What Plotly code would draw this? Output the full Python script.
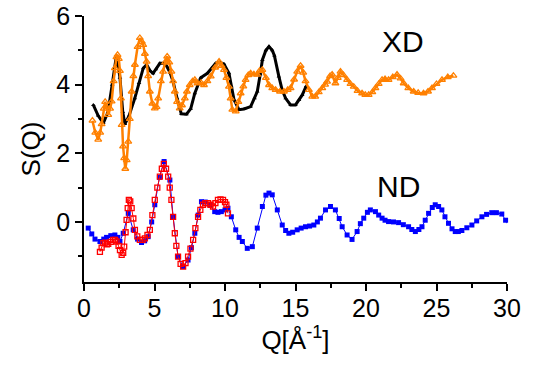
import plotly.graph_objects as go

# X-ray diffraction, reference curve (black)
q_xd_ref = [0.66, 1.0, 1.37, 1.7, 2.0, 2.3, 2.55, 2.75, 2.9, 3.2, 3.6, 3.9, 4.2, 4.44, 4.7,
            4.9, 5.1, 5.38, 5.65, 5.85, 6.1, 6.32, 6.6, 6.9, 7.27, 7.57, 7.86, 8.28, 8.75,
            9.1, 9.34, 9.65, 9.93, 10.28, 10.45, 10.64, 10.99, 11.35, 11.82, 12.1, 12.29,
            12.5, 12.65, 12.9, 13.12, 13.35, 13.5, 13.82, 14.05, 14.3, 14.65, 15.0, 15.25,
            15.48, 15.75]
s_xd_ref = [3.41, 3.1, 2.88, 3.2, 4.0, 4.85, 4.2, 3.2, 2.85, 3.1, 3.6, 4.05, 4.48, 4.58, 4.4,
            4.33, 4.45, 4.62, 4.62, 4.55, 4.35, 4.09, 3.6, 3.15, 3.14, 3.3, 3.75, 4.2, 4.33,
            4.5, 4.62, 4.65, 4.6, 4.33, 3.95, 3.56, 3.27, 3.29, 3.36, 3.6, 3.8,
            4.3, 4.72, 5.0, 5.11, 5.0, 4.85, 4.24, 3.85, 3.6, 3.41, 3.41, 3.55,
            3.7, 3.95]

# X-ray diffraction, measured curve (orange)
q_xd = [0.6, 0.8, 1.01, 1.15, 1.25, 1.4, 1.5, 1.6, 1.72, 1.85, 1.96, 2.1, 2.19, 2.3, 2.38,
        2.47, 2.55, 2.62, 2.67, 2.77, 2.85, 2.93, 3.03, 3.14, 3.25, 3.38, 3.5, 3.61, 3.8,
        3.96, 4.1, 4.2, 4.32, 4.44, 4.55, 4.67, 4.85, 5.02, 5.15, 5.26, 5.45, 5.61, 5.75,
        5.9, 6.05, 6.2, 6.32, 6.44, 6.6, 6.79, 6.95, 7.15, 7.3, 7.5, 7.7, 7.86, 8.05, 8.3,
        8.51, 8.75, 8.99, 9.3, 9.58, 9.75, 9.93, 10.1, 10.28, 10.4, 10.52, 10.76, 10.95,
        11.11, 11.3, 11.46, 11.65, 11.82, 12.05, 12.29, 12.45, 12.65, 12.9, 13.12, 13.35,
        13.59, 13.9, 14.18, 14.45, 14.65, 14.9, 15.12, 15.36, 15.55, 15.71, 15.95, 16.19,
        16.4, 16.65, 16.9, 17.1, 17.24, 17.45, 17.6, 17.83, 18.0, 18.19, 18.4, 18.66, 18.9,
        19.13, 19.4, 19.72, 19.95, 20.19, 20.45, 20.67, 20.9, 21.14, 21.35, 21.6, 21.9,
        22.2, 22.45, 22.67, 23.0, 23.38, 23.7, 24.08, 24.4, 24.68, 25.0, 25.39, 25.8, 26.2]
s_xd = [2.95, 2.6, 2.4, 2.6, 2.85, 3.3, 3.5, 3.35, 3.12, 3.3, 3.51, 4.1, 4.48, 4.8, 4.87,
        4.75, 4.4, 3.6, 2.83, 2.2, 1.86, 1.55, 1.8, 2.34, 3.0, 3.8, 4.25, 4.58, 5.1,
        5.36, 5.25, 5.16, 4.9, 4.67, 4.25, 3.8, 3.45, 3.31, 3.35, 3.6, 4.1, 4.38, 4.65,
        4.82, 4.65, 4.38, 4.1, 3.8, 3.5, 3.31, 3.4, 3.6, 3.8, 3.99, 4.1, 4.14, 4.04, 4.05,
        3.99, 4.1, 4.24, 4.5, 4.67, 4.55, 4.43, 4.2, 3.94, 3.6, 3.27, 3.22, 3.5,
        3.75, 3.95, 4.14, 4.28, 4.33, 4.3, 4.29, 4.4, 4.43, 4.2, 3.99, 3.9,
        3.85, 3.8, 3.8, 3.85, 3.9, 4.15, 4.38, 4.55, 4.35, 4.1, 3.85, 3.65,
        3.65, 3.78, 3.9, 4.0, 4.09, 4.25, 4.29, 4.04, 4.2, 4.38, 4.28, 4.14, 4.02,
        3.94, 3.82, 3.75, 3.7, 3.7, 3.78, 3.9, 4.02, 4.14, 4.16, 4.14, 4.22,
        4.29, 4.18, 4.04, 3.9, 3.8, 3.76, 3.75, 3.8, 3.9, 4.02, 4.14, 4.22, 4.26]

# Neutron diffraction, wide-Q curve (blue)
q_nd = [0.3, 0.55, 0.78, 1.13, 1.4, 1.6, 1.9, 2.19, 2.4, 2.55, 2.78, 3.14, 3.49, 3.8, 4.08,
        4.3, 4.55, 4.8, 5.02, 5.35, 5.68, 6.09, 6.32, 6.67, 7.03, 7.38, 7.62, 7.86, 8.1,
        8.33, 8.6, 8.92, 9.27, 9.5, 9.74, 10.0, 10.21, 10.45, 10.76, 11.0, 11.23, 11.58,
        11.94, 12.29, 12.65, 12.9, 13.12, 13.35, 13.71, 14.06, 14.3, 14.53, 14.8, 15.12,
        15.4, 15.71, 16.0, 16.3, 16.55, 16.77, 17.13, 17.48, 17.83, 18.1, 18.31, 18.66,
        19.01, 19.37, 19.6, 19.84, 20.1, 20.31, 20.67, 20.9, 21.14, 21.35, 21.6, 21.95,
        22.31, 22.65, 23.02, 23.25, 23.5, 23.75, 23.97, 24.2, 24.44, 24.7, 24.91, 25.15,
        25.38, 25.6, 25.85, 26.1, 26.33, 26.55, 26.8, 27.15, 27.51, 27.85, 28.22, 28.55,
        28.92, 29.25, 29.63, 29.9, 30.1, 30.4]
s_nd = [-0.18, -0.35, -0.5, -0.57, -0.5, -0.45, -0.4, -0.38, -0.45, -0.57, -0.33, 0.25, -0.23,
        -0.5, -0.6, -0.55, -0.43, 0.0, 0.5, 1.3, 1.76, 1.22, 0.15, -1.01, -1.3, -1.11, -0.75,
        -0.33, 0.2, 0.59, 0.58, 0.5, 0.3, 0.28, 0.3, 0.35, 0.4, 0.15, -0.23, -0.45, -0.57,
        -0.77, -0.72, -0.18, 0.45, 0.78, 0.84, 0.79, 0.35, -0.09, -0.25, -0.33, -0.3, -0.23,
        -0.18, -0.14, -0.12, -0.09, 0.0, 0.11, 0.35, 0.45, 0.35, 0.1, -0.14, -0.38,
        -0.51, -0.28, -0.05, 0.11, 0.28, 0.35, 0.3, 0.2, 0.11, 0.05, 0.01, 0.0,
        -0.02, -0.08, -0.14, -0.22, -0.28, -0.22, -0.14, 0.05, 0.25, 0.42, 0.5, 0.45,
        0.35, 0.15, -0.04, -0.2, -0.28, -0.28, -0.25, -0.17, -0.09, 0.03, 0.15, 0.22,
        0.27, 0.27, 0.23, 0.05, -0.1, -0.23]

# Neutron diffraction, low-Q curve (red)
q_nd_low = [1.13, 1.25, 1.37, 1.5, 1.62, 1.72, 1.9, 2.07, 2.2, 2.31, 2.45, 2.55, 2.67, 2.78,
            2.85, 2.95, 3.02, 3.1, 3.18, 3.28, 3.38, 3.5, 3.61, 3.78, 3.96, 4.15, 4.32, 4.5,
            4.67, 4.85, 5.02, 5.2, 5.38, 5.52, 5.66, 5.82, 5.97, 6.08, 6.2, 6.32, 6.44, 6.55,
            6.67, 6.85, 7.03, 7.2, 7.38, 7.55, 7.74, 7.9, 8.09, 8.25, 8.44, 8.6, 8.8, 8.97,
            9.15, 9.32, 9.5, 9.68, 9.86, 10.0, 10.1, 10.21]
s_nd_low = [-0.87, -0.75, -0.62, -0.6, -0.65, -0.64, -0.58, -0.52, -0.52, -0.57, -0.7, -0.82,
            -0.96, -0.9, -0.72, -0.3, 0.06, 0.4, 0.64, 0.6, 0.4, 0.1, -0.23, -0.42, -0.52,
            -0.52, -0.48, -0.38, -0.23, 0.2, 0.64, 1.0, 1.32, 1.55, 1.69, 1.55, 1.32, 1.0,
            0.64, 0.15, -0.33, -0.7, -1.01, -1.22, -1.3, -1.2, -1.01, -0.78, -0.52, -0.18,
            0.15, 0.35, 0.5, 0.55, 0.55, 0.5, 0.45, 0.55, 0.64, 0.66, 0.64, 0.58, 0.5, 0.25]

x_ticks = [0, 5, 10, 15, 20, 25, 30]
y_ticks = [0, 2, 4, 6]

FONT = "Liberation Sans, Arial, sans-serif"

fig = go.Figure()

fig.add_trace(go.Scatter(
    x=q_xd_ref, y=s_xd_ref, mode="lines+markers",
    line=dict(color="black", width=3),
    marker=dict(symbol="triangle-up", size=4, color="black"),
    showlegend=False))

fig.add_trace(go.Scatter(
    x=q_xd, y=s_xd, mode="lines+markers",
    line=dict(color="#ff8000", width=2.5),
    marker=dict(symbol="triangle-up-open", size=6, color="#ff8000",
                line=dict(width=1.3)),
    showlegend=False))

fig.add_trace(go.Scatter(
    x=q_nd, y=s_nd, mode="lines+markers",
    line=dict(color="#0000ff", width=1),
    marker=dict(symbol="square", size=5, color="#0000ff"),
    cliponaxis=False, showlegend=False))

fig.add_trace(go.Scatter(
    x=q_nd_low, y=s_nd_low, mode="lines+markers",
    line=dict(color="#ff0000", width=1),
    marker=dict(symbol="square-open", size=5, color="#ff0000",
                line=dict(width=1.3)),
    showlegend=False))

fig.add_annotation(x=22.6, y=5.25, xref="x", yref="y", text="XD", showarrow=False,
                   font=dict(family=FONT, size=30, color="black"))
fig.add_annotation(x=22.3, y=1.02, xref="x", yref="y", text="ND", showarrow=False,
                   font=dict(family=FONT, size=30, color="black"))

axis_common = dict(
    showgrid=False, zeroline=False, showline=True, linecolor="black", linewidth=1.5,
    ticks="outside", ticklen=7, tickwidth=1.5, tickcolor="black",
    tickfont=dict(family=FONT, size=25, color="black"),
    mirror=False, automargin=False,
)

fig.update_xaxes(
    range=[0, 30], tickvals=x_ticks, ticktext=[str(v) for v in x_ticks],
    ticklabelstandoff=-4,
    minor=dict(dtick=2.5, tick0=0, ticks="outside", ticklen=4, tickwidth=1.5,
               tickcolor="black", showgrid=False),
    title=dict(text="Q[Å<sup>-1</sup>]", font=dict(family=FONT, size=26, color="black"),
               standoff=4),
    **axis_common)

fig.update_yaxes(
    range=[-1.75, 6], tickvals=y_ticks, ticktext=[str(v) for v in y_ticks],
    minor=dict(dtick=1, tick0=0, ticks="outside", ticklen=4, tickwidth=1.5,
               tickcolor="black", showgrid=False),
    title=dict(text="S(Q)", font=dict(family=FONT, size=26, color="black"),
               standoff=8),
    **axis_common)

fig.update_layout(
    width=537, height=376,
    margin=dict(l=84, r=30, t=16, b=94),
    paper_bgcolor="white", plot_bgcolor="white",
)

fig.write_html("out.html")
